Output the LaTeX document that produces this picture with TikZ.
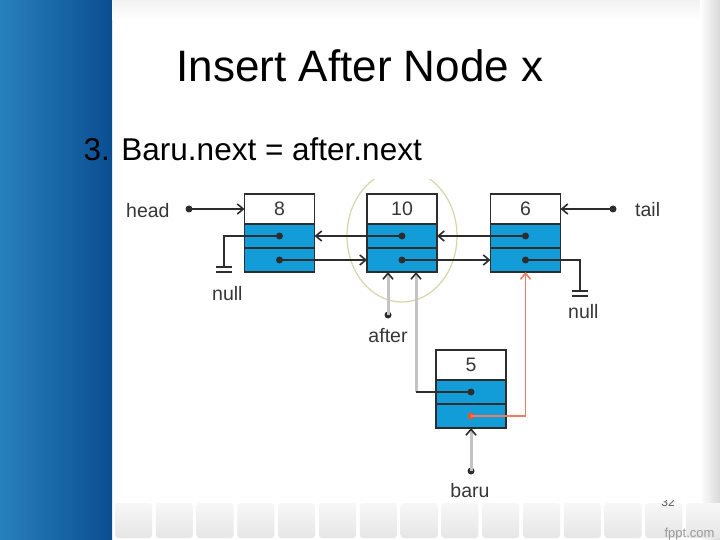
\documentclass[tikz,border=0pt]{standalone}
\usepackage{fontspec}
\setmainfont{Liberation Sans}
\usetikzlibrary{positioning,arrows.meta}
\definecolor{cellblue}{RGB}{18,156,216}
\definecolor{edgegray}{RGB}{45,45,45}
\definecolor{textgray}{RGB}{55,55,55}
\definecolor{lightwire}{RGB}{195,195,195}
\definecolor{redwire}{RGB}{240,125,95}
\definecolor{reddot}{RGB}{232,90,45}
\definecolor{ringcol}{RGB}{214,214,170}
\definecolor{stripl}{RGB}{40,128,188}
\definecolor{stripr}{RGB}{10,78,145}

\begin{document}
\begin{tikzpicture}[x=1pt,y=-1pt]
	\tikzstyle{valbox} = [rectangle, draw=edgegray, line width=1.6pt, fill=white, minimum width=70pt, minimum height=30pt, inner sep=0pt, outer sep=0pt, text=textgray, font=\fontsize{19.5}{19.5}\selectfont]
	\tikzstyle{ptrbox} = [valbox, fill=cellblue, minimum height=24pt]
	\tikzstyle{ptrdot} = [circle, fill=edgegray, inner sep=0pt, minimum size=7pt]
	\tikzstyle{lbl} = [text=textgray, font=\fontsize{19.5}{19.5}\selectfont, inner sep=0pt]
	\tikzstyle{wire} = [draw=edgegray, line width=1.3pt]
	\tikzstyle{ptr} = [wire, -{Straight Barb[length=6pt,width=10pt,line width=1.6pt]}]
	\tikzstyle{gptr} = [draw=lightwire, line width=3pt, -{Straight Barb[length=6pt,width=10pt,color=edgegray,line width=1.6pt]}]
	\tikzstyle{rptr} = [draw=redwire, line width=1.3pt, -{Straight Barb[length=6pt,width=10pt,line width=1.6pt]}]

	% Background
	\useasboundingbox (0,0) rectangle (720,540);
	\fill[white] (0,0) rectangle (720,540);
	\shade[left color=stripl, right color=stripr] (0,0) rectangle (112,540);
	\shade[top color=gray!10, bottom color=white] (112,0) rectangle (720,20);
	\shade[left color=white, right color=gray!30] (700,0) rectangle (720,540);
	\foreach \k in {0,...,14}
		\shade[top color=gray!6, bottom color=gray!20, rounded corners=3pt] (115+40.8*\k,503) rectangle +(37,35);
	\begin{scope}
		\clip (650,500) rectangle (690,520);
		\node[font=\fontsize{12}{12}\selectfont, text=gray!70!black] (pagenum) at (668,502) {32};
	\end{scope}
	\node[font=\fontsize{13}{13}\selectfont, text=gray!80, anchor=base east] (site) at (718,537) {fppt.com};

	% Titles
	\node[anchor=base, font=\fontsize{44}{44}\selectfont] (title) at (360,82) {Insert After Node x};
	\node[anchor=base west, font=\fontsize{31.5}{32}\selectfont] (subtitle) at (80,161) {3. Baru.next = after.next};

	% Ring round the node after
	\begin{scope}
		\clip (300,180) rectangle (500,320);
		\draw[ringcol, line width=1.2pt] (402,236) ellipse (55 and 66);
	\end{scope}

	% Define nodes
	\node[valbox] (v8) at (279.5,209) {8};
	\node[ptrbox, below=0pt of v8] (p8) {};
	\node[ptrbox, below=0pt of p8] (n8) {};
	\node[valbox] (v10) at (402,209) {10};
	\node[ptrbox, below=0pt of v10] (p10) {};
	\node[ptrbox, below=0pt of p10] (n10) {};
	\node[valbox] (v6) at (525.5,209) {6};
	\node[ptrbox, below=0pt of v6] (p6) {};
	\node[ptrbox, below=0pt of p6] (n6) {};
	\node[valbox] (v5) at (471,365) {5};
	\node[ptrbox, below=0pt of v5] (p5) {};
	\node[ptrbox, below=0pt of p5] (n5) {};
	\foreach \n in {8,10,6} {
		\node[ptrdot] (dp\n) at (p\n) {};
		\node[ptrdot] (dn\n) at (n\n) {};
	}
	\node[ptrdot] (dp5) at (p5) {};
	\node[ptrdot, fill=reddot] (dn5) at (n5) {};

	% Labels and pointers
	\node[lbl, anchor=base west] (head) at (126,218) {head};
	\node[ptrdot] (hd) at (189,209) {};
	\node[lbl, anchor=base west] (tail) at (635,216) {tail};
	\node[ptrdot] (td) at (613,209) {};
	\node[ptrdot] (ad) at (388,315) {};
	\node[lbl, anchor=base] (after) at (388,342) {after};
	\node[ptrdot] (bd) at (471,471) {};
	\node[lbl, anchor=base] (baru) at (470,497) {baru};
	\node[lbl, anchor=base west] (null8) at (212,300) {null};
	\node[lbl, anchor=base west] (null6) at (568,318) {null};
	\coordinate (g8) at (224,267);
	\coordinate (g6) at (580,291);
	\coordinate (bend5) at (416,392);

	% Draw edges
	\draw[ptr] (hd.center) -- (v8);
	\draw[ptr] (td.center) -- (v6);
	\draw[ptr] (dp10.center) -- (p8);
	\draw[ptr] (dn8.center) -- (n10);
	\draw[ptr] (dp6.center) -- (p10);
	\draw[ptr] (dn10.center) -- (n6);
	\draw[wire] (dp8.center) -| (g8);
	\draw[wire] (g8) ++(-8,0) -- ++(16,0) ++(-16,5) -- ++(16,0);
	\draw[wire] (dn6.center) -| (g6);
	\draw[wire] (g6) ++(-8,0) -- ++(16,0) ++(-16,5) -- ++(16,0);
	\draw[gptr] (ad.center) -- (ad.center |- n10.south);
	\draw[gptr] (bend5) -- (bend5 |- n10.south);
	\draw[wire] (dp5.center) -- (bend5);
	\draw[rptr] (dn5.center) -| (n6);
	\draw[gptr] (bd.center) -- (n5);
\end{tikzpicture}
\end{document}
